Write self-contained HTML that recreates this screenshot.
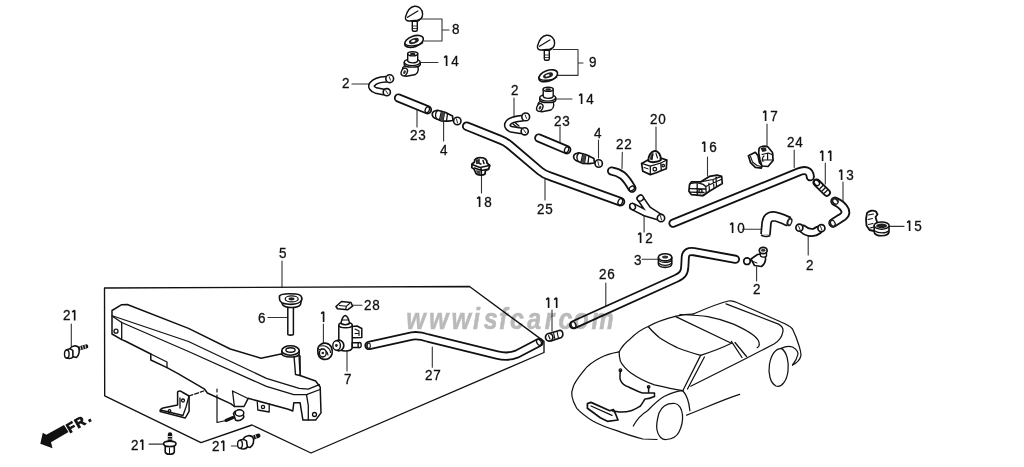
<!DOCTYPE html>
<html><head><meta charset="utf-8">
<style>
html,body{margin:0;padding:0;background:#fff;width:1024px;height:467px;overflow:hidden}
svg{display:block;filter:blur(0.3px)}
text{font-family:"Liberation Sans",sans-serif;fill:#111}
.lab text{stroke:#111;stroke-width:0.3}
</style></head><body>
<svg width="1024" height="467" viewBox="0 0 1024 467">
<defs>
<style>
.l{fill:none;stroke:#111;stroke-width:1.3;stroke-linecap:round;stroke-linejoin:round}
.t{fill:none;stroke:#111;stroke-width:1.6;stroke-linecap:round;stroke-linejoin:round}
.f{fill:#fff;stroke:#111;stroke-width:1.4;stroke-linejoin:round}
.k{fill:#111;stroke:none}
.lab{font-size:14.5px}
</style>
</defs>
<g class="lab">
<text transform="translate(452.08 33.8) scale(0.93 1)">8</text>
<path d="M446.60 55.7V66M446.60 55.7L444.10 57.7" fill="none" stroke="#111" stroke-width="1.65" stroke-linecap="butt" stroke-linejoin="miter"/>
<text transform="translate(451.14 65.8) scale(0.93 1)">4</text>
<text transform="translate(342.08 87.8) scale(0.93 1)">2</text>
<text transform="translate(410.08 139.8) scale(0.93 1)">2</text>
<text transform="translate(418.14 139.8) scale(0.93 1)">3</text>
<text transform="translate(440.08 154.8) scale(0.93 1)">4</text>
<text transform="translate(537.08 213.8) scale(0.93 1)">2</text>
<text transform="translate(545.14 213.8) scale(0.93 1)">5</text>
<path d="M479.60 196.7V207M479.60 196.7L477.10 198.7" fill="none" stroke="#111" stroke-width="1.65" stroke-linecap="butt" stroke-linejoin="miter"/>
<text transform="translate(484.14 206.8) scale(0.93 1)">8</text>
<text transform="translate(589.08 67.3) scale(0.93 1)">9</text>
<path d="M581.60 93.7V104M581.60 93.7L579.10 95.7" fill="none" stroke="#111" stroke-width="1.65" stroke-linecap="butt" stroke-linejoin="miter"/>
<text transform="translate(586.14 103.8) scale(0.93 1)">4</text>
<text transform="translate(511.08 94.8) scale(0.93 1)">2</text>
<text transform="translate(554.08 125.8) scale(0.93 1)">2</text>
<text transform="translate(562.14 125.8) scale(0.93 1)">3</text>
<text transform="translate(594.08 137.8) scale(0.93 1)">4</text>
<text transform="translate(616.08 148.8) scale(0.93 1)">2</text>
<text transform="translate(624.14 148.8) scale(0.93 1)">2</text>
<text transform="translate(650.08 123.8) scale(0.93 1)">2</text>
<text transform="translate(658.14 123.8) scale(0.93 1)">0</text>
<path d="M704.60 141.7V152M704.60 141.7L702.10 143.7" fill="none" stroke="#111" stroke-width="1.65" stroke-linecap="butt" stroke-linejoin="miter"/>
<text transform="translate(709.14 151.8) scale(0.93 1)">6</text>
<path d="M765.60 110.7V121M765.60 110.7L763.10 112.7" fill="none" stroke="#111" stroke-width="1.65" stroke-linecap="butt" stroke-linejoin="miter"/>
<text transform="translate(770.14 120.8) scale(0.93 1)">7</text>
<text transform="translate(787.08 146.8) scale(0.93 1)">2</text>
<text transform="translate(795.14 146.8) scale(0.93 1)">4</text>
<path d="M822.60 150.7V161M822.60 150.7L820.10 152.7" fill="none" stroke="#111" stroke-width="1.65" stroke-linecap="butt" stroke-linejoin="miter"/>
<path d="M830.66 150.7V161M830.66 150.7L828.16 152.7" fill="none" stroke="#111" stroke-width="1.65" stroke-linecap="butt" stroke-linejoin="miter"/>
<path d="M841.60 169.7V180M841.60 169.7L839.10 171.7" fill="none" stroke="#111" stroke-width="1.65" stroke-linecap="butt" stroke-linejoin="miter"/>
<text transform="translate(846.14 179.8) scale(0.93 1)">3</text>
<path d="M909.60 220.7V231M909.60 220.7L907.10 222.7" fill="none" stroke="#111" stroke-width="1.65" stroke-linecap="butt" stroke-linejoin="miter"/>
<text transform="translate(914.14 230.8) scale(0.93 1)">5</text>
<path d="M732.60 222.7V233M732.60 222.7L730.10 224.7" fill="none" stroke="#111" stroke-width="1.65" stroke-linecap="butt" stroke-linejoin="miter"/>
<text transform="translate(737.14 232.8) scale(0.93 1)">0</text>
<text transform="translate(806.08 269.8) scale(0.93 1)">2</text>
<path d="M640.60 232.7V243M640.60 232.7L638.10 234.7" fill="none" stroke="#111" stroke-width="1.65" stroke-linecap="butt" stroke-linejoin="miter"/>
<text transform="translate(645.14 242.8) scale(0.93 1)">2</text>
<text transform="translate(634.08 264.8) scale(0.93 1)">3</text>
<text transform="translate(599.08 278.8) scale(0.93 1)">2</text>
<text transform="translate(607.14 278.8) scale(0.93 1)">6</text>
<text transform="translate(753.08 293.8) scale(0.93 1)">2</text>
<text transform="translate(279.08 257.8) scale(0.93 1)">5</text>
<text transform="translate(258.08 322.8) scale(0.93 1)">6</text>
<path d="M323.60 311.7V322M323.60 311.7L321.10 313.7" fill="none" stroke="#111" stroke-width="1.65" stroke-linecap="butt" stroke-linejoin="miter"/>
<text transform="translate(364.08 309.8) scale(0.93 1)">2</text>
<text transform="translate(372.14 309.8) scale(0.93 1)">8</text>
<text transform="translate(344.08 383.8) scale(0.93 1)">7</text>
<text transform="translate(425.08 379.8) scale(0.93 1)">2</text>
<text transform="translate(433.14 379.8) scale(0.93 1)">7</text>
<path d="M548.60 297.7V308M548.60 297.7L546.10 299.7" fill="none" stroke="#111" stroke-width="1.65" stroke-linecap="butt" stroke-linejoin="miter"/>
<path d="M556.66 297.7V308M556.66 297.7L554.16 299.7" fill="none" stroke="#111" stroke-width="1.65" stroke-linecap="butt" stroke-linejoin="miter"/>
<text transform="translate(63.08 320.3) scale(0.93 1)">2</text>
<path d="M74.66 310.2V320.5M74.66 310.2L72.16 312.2" fill="none" stroke="#111" stroke-width="1.65" stroke-linecap="butt" stroke-linejoin="miter"/>
<text transform="translate(131.08 449.8) scale(0.93 1)">2</text>
<path d="M142.66 439.7V450M142.66 439.7L140.16 441.7" fill="none" stroke="#111" stroke-width="1.65" stroke-linecap="butt" stroke-linejoin="miter"/>
<text transform="translate(212.08 450.8) scale(0.93 1)">2</text>
<path d="M223.66 440.7V451M223.66 440.7L221.16 442.7" fill="none" stroke="#111" stroke-width="1.65" stroke-linecap="butt" stroke-linejoin="miter"/>
</g>
<g class="l" style="stroke:#333;stroke-width:1.1">
<path d="M352 84H370 M417 110V127 M443.6 121V141 M545 179V200 M481.5 176V193 M420 62.5H438 M419 19H442V41H423 M442 30H449"/>
<path d="M553 49.5H578V75.4H557 M578 63H583 M556 99H572 M514 98V117 M560 127V142 M598.5 140V158 M622.3 152.3L622 168.5 M656 127V151 M707.5 157V176 M767 124V146.5 M794.2 150V167.5 M825.3 163V184 M843 182V201 M889.2 226.4H904 M742.5 229.2H761.3 M808.2 234V255 M644.1 214V232 M642 259.3H658.3 M605.8 283V307.4 M756.6 267V281"/>
<path d="M282 261V287.5 M268 317.5H287.8 M323.4 324V343 M352.4 305.3H362 M347 351V371 M432.3 347V367.3 M552 310V331 M71.3 324V345.7 M149 444.1H163.6 M231.3 446H237.7"/>
</g>
<g transform="translate(0 0)">
<rect class="f" x="412.3" y="21" width="5" height="10.2" rx="1.5"/>
<path class="l" d="M413 26H416.5M413 28.5H416.5" style="stroke-width:0.8"/>
<path class="f" d="M409.5 19.5C409 22 419.5 22 419.5 19.5V18.5H409.5Z"/>
<path class="f" d="M405.5 17C407 11.5 410 7 414.5 6.3C419 5.8 422.6 9.5 422.6 14C422.6 17.5 420.5 19.6 417.5 20.3L409.5 21C406.5 21.2 405 19.5 405.5 17Z"/>
<path class="l" d="M407.5 17.3L417.8 11"/>
</g>
<ellipse class="f" cx="414" cy="41.4" rx="9.8" ry="5.3" transform="rotate(-20 414 41.4)" style="stroke-width:1.6"/>
<path class="f" d="M404.5 42.9C405 46.4 417 47.4 423 42.4" style="fill:none"/>
<ellipse cx="414" cy="41.0" rx="5.2" ry="2.6" transform="rotate(-20 414 41.4)" fill="#222"/>
<ellipse cx="413.5" cy="40.8" rx="2.2" ry="1" transform="rotate(-20 414 41.4)" fill="#fff"/>
<g transform="translate(0 0)">
<path class="f" d="M402.5 70C402 66.5 405 65 409 65.5L416.5 65C419 67 419 72.5 415.5 74.5L406.5 76.2C404 76.5 402.8 74 402.5 70Z"/>
<ellipse class="f" cx="404.3" cy="72" rx="2.9" ry="4" transform="rotate(25 404.3 72)"/>
<ellipse cx="404.5" cy="72.2" rx="1.2" ry="2" transform="rotate(25 404.5 72.2)" fill="#333"/>
<path class="f" d="M404.2 62.5V64.5C405 68 419.5 68 420.3 64.5V62.5Z"/>
<ellipse class="f" cx="412.2" cy="62.3" rx="8" ry="3.3"/>
<path class="f" d="M407.7 53.5V61C409 63.5 416.5 63.5 417.7 61V53.5Z"/>
<ellipse class="f" cx="412.7" cy="53.8" rx="5" ry="2.1"/>
<ellipse cx="412.7" cy="54" rx="2.8" ry="1.2" fill="#222"/>
</g>
<path d="M386 79.3C379.5 79.5 374.5 81.5 372 84.5C370.5 86.8 372.5 89.5 376 90.5L383.5 92" fill="none" stroke="#111" stroke-width="7.0" stroke-linecap="round" stroke-linejoin="round"/><path d="M386 79.3C379.5 79.5 374.5 81.5 372 84.5C370.5 86.8 372.5 89.5 376 90.5L383.5 92" fill="none" stroke="#fff" stroke-width="4.0" stroke-linecap="round" stroke-linejoin="round"/><circle class="f" cx="389.7" cy="78.7" r="3.9" style="stroke-width:1.6"/><circle class="f" cx="386.8" cy="92.2" r="3.6" style="stroke-width:1.6"/><path class="l" d="M389.2 76.7L390.5 80.2M385.8 90.7L387.8 93.7" style="stroke-width:0.9"/>
<path d="M398.5 98L427.5 109.8" fill="none" stroke="#111" stroke-width="9.2" stroke-linecap="round" stroke-linejoin="round"/><path d="M398.5 98L427.5 109.8" fill="none" stroke="#fff" stroke-width="5.6" stroke-linecap="round" stroke-linejoin="round"/>
<ellipse class="l" cx="427.3" cy="109.7" rx="2" ry="3" transform="rotate(22 427.3 109.7)"/>
<g transform="translate(0 0)">
<path class="f" d="M434 111.2C431.5 112.5 431.5 116.5 434.5 118L441 120.8L448 121.2L453 120.5L452.5 116L445 112.2L437.5 110.2Z" style="stroke-width:1.7"/>
<path class="l" d="M437.5 110.5C435.5 112.5 435 116 436.8 119M441.5 111.2L439.5 120M444.5 112.3L443 120.8M447.5 113.5L446.5 121"/>
<path class="k" d="M441.5 111.5L444.5 112.5L443 120.7L439.8 120Z" style="fill:#444"/>
<circle class="f" cx="457.3" cy="121" r="3.7" style="stroke-width:1.6"/>
<path class="l" d="M456.5 119L457.5 123" style="stroke-width:0.9"/>
</g>
<path class="f" d="M474.5 162C474 159 477.5 157.5 481 157.7C485 157.8 487.2 160 487 163L489.8 165.5L488.5 169.5L485.5 170.5L485 174C483 175.5 478 175.5 476 173.5L474 169L471.8 167.5L472 164Z" style="stroke-width:1.8"/>
<path class="l" d="M472 164.5L480 167.5L489.5 165.5M474.5 168L481.5 170.5L488.5 169M481 167.5L481.5 175M478 160C478 162 479.5 164 481 164M483 160.5L484 163.5" style="stroke-width:1.5"/>
<path class="k" d="M476 160L480 159L479.5 164L476 164Z" style="fill:#333"/>
<path class="k" d="M476 170L480.5 171L480.5 174.5L477 173.5Z" style="fill:#444"/>
<path d="M466.7 126.2L501 140C505 141.5 507 143 510 145.5L540 171C543 173.5 546 175 550 176.3L620.5 201.8" fill="none" stroke="#111" stroke-width="9.5" stroke-linecap="round" stroke-linejoin="round"/><path d="M466.7 126.2L501 140C505 141.5 507 143 510 145.5L540 171C543 173.5 546 175 550 176.3L620.5 201.8" fill="none" stroke="#fff" stroke-width="5.8" stroke-linecap="round" stroke-linejoin="round"/>
<ellipse class="l" cx="620.3" cy="201.8" rx="2.2" ry="3.3" transform="rotate(20 620.3 201.8)"/>
<g transform="translate(132 29)">
<rect class="f" x="412.3" y="21" width="5" height="10.2" rx="1.5"/>
<path class="l" d="M413 26H416.5M413 28.5H416.5" style="stroke-width:0.8"/>
<path class="f" d="M409.5 19.5C409 22 419.5 22 419.5 19.5V18.5H409.5Z"/>
<path class="f" d="M405.5 17C407 11.5 410 7 414.5 6.3C419 5.8 422.6 9.5 422.6 14C422.6 17.5 420.5 19.6 417.5 20.3L409.5 21C406.5 21.2 405 19.5 405.5 17Z"/>
<path class="l" d="M407.5 17.3L417.8 11"/>
</g>
<ellipse class="f" cx="548.2" cy="75.8" rx="9.8" ry="5.3" transform="rotate(-20 548.2 75.8)" style="stroke-width:1.6"/>
<path class="f" d="M538.7 77.3C539.2 80.8 551.2 81.8 557.2 76.8" style="fill:none"/>
<ellipse cx="548.2" cy="75.39999999999999" rx="5.2" ry="2.6" transform="rotate(-20 548.2 75.8)" fill="#222"/>
<ellipse cx="547.7" cy="75.2" rx="2.2" ry="1" transform="rotate(-20 548.2 75.8)" fill="#fff"/>
<g transform="translate(135.5 35.5)">
<path class="f" d="M402.5 70C402 66.5 405 65 409 65.5L416.5 65C419 67 419 72.5 415.5 74.5L406.5 76.2C404 76.5 402.8 74 402.5 70Z"/>
<ellipse class="f" cx="404.3" cy="72" rx="2.9" ry="4" transform="rotate(25 404.3 72)"/>
<ellipse cx="404.5" cy="72.2" rx="1.2" ry="2" transform="rotate(25 404.5 72.2)" fill="#333"/>
<path class="f" d="M404.2 62.5V64.5C405 68 419.5 68 420.3 64.5V62.5Z"/>
<ellipse class="f" cx="412.2" cy="62.3" rx="8" ry="3.3"/>
<path class="f" d="M407.7 53.5V61C409 63.5 416.5 63.5 417.7 61V53.5Z"/>
<ellipse class="f" cx="412.7" cy="53.8" rx="5" ry="2.1"/>
<ellipse cx="412.7" cy="54" rx="2.8" ry="1.2" fill="#222"/>
</g>
<path d="M522 118.3C516 118.8 511 120 508.5 122.5C506.3 125 507.5 128 511 129.3L520.5 130.8" fill="none" stroke="#111" stroke-width="7.0" stroke-linecap="round" stroke-linejoin="round"/><path d="M522 118.3C516 118.8 511 120 508.5 122.5C506.3 125 507.5 128 511 129.3L520.5 130.8" fill="none" stroke="#fff" stroke-width="4.0" stroke-linecap="round" stroke-linejoin="round"/><circle class="f" cx="525.7" cy="116.9" r="3.9" style="stroke-width:1.6"/><circle class="f" cx="524.7" cy="131.3" r="3.6" style="stroke-width:1.6"/><path class="l" d="M525.2 114.9L526.5 118.4M523.7 129.8L525.7 132.8" style="stroke-width:0.9"/>
<path class="l" d="M513 124L517.5 127.5M515.5 123L519 126"/>
<path d="M538.8 138L566.8 149.8" fill="none" stroke="#111" stroke-width="9.2" stroke-linecap="round" stroke-linejoin="round"/><path d="M538.8 138L566.8 149.8" fill="none" stroke="#fff" stroke-width="5.6" stroke-linecap="round" stroke-linejoin="round"/>
<ellipse class="l" cx="566.6" cy="149.7" rx="2" ry="3" transform="rotate(22 566.6 149.7)"/>
<g transform="translate(141.4 42.5)">
<path class="f" d="M434 111.2C431.5 112.5 431.5 116.5 434.5 118L441 120.8L448 121.2L453 120.5L452.5 116L445 112.2L437.5 110.2Z" style="stroke-width:1.7"/>
<path class="l" d="M437.5 110.5C435.5 112.5 435 116 436.8 119M441.5 111.2L439.5 120M444.5 112.3L443 120.8M447.5 113.5L446.5 121"/>
<path class="k" d="M441.5 111.5L444.5 112.5L443 120.7L439.8 120Z" style="fill:#444"/>
<circle class="f" cx="457.3" cy="121" r="3.7" style="stroke-width:1.6"/>
<path class="l" d="M456.5 119L457.5 123" style="stroke-width:0.9"/>
</g>
<path d="M611.5 171C615 171.5 619 173 622.5 175.5C626 178.5 629 183 632 188.3" fill="none" stroke="#111" stroke-width="9.0" stroke-linecap="round" stroke-linejoin="round"/><path d="M611.5 171C615 171.5 619 173 622.5 175.5C626 178.5 629 183 632 188.3" fill="none" stroke="#fff" stroke-width="5.4" stroke-linecap="round" stroke-linejoin="round"/>
<ellipse class="l" cx="631.8" cy="188.4" rx="2.8" ry="2" transform="rotate(-35 631.8 188.4)"/>
<path d="M640.3 198.3L648 209.5L660 217.3M632.8 206.6L645 212.8L660 217.3" fill="none" stroke="#111" stroke-width="7.6" stroke-linecap="round" stroke-linejoin="round"/><path d="M640.3 198.3L648 209.5L660 217.3M632.8 206.6L645 212.8L660 217.3" fill="none" stroke="#fff" stroke-width="4.6" stroke-linecap="round" stroke-linejoin="round"/>
<ellipse class="f" cx="640.3" cy="198.2" rx="3.3" ry="2.8" transform="rotate(-30 640.3 198.2)"/><ellipse class="f" cx="632.6" cy="206.5" rx="2.6" ry="3.3" transform="rotate(-30 632.6 206.5)"/>
<circle class="f" cx="661" cy="218.1" r="3.7" style="stroke-width:1.6"/><path class="l" d="M660.5 216L661.5 220" style="stroke-width:0.9"/>
<path class="f" d="M641.6 163.4L648.8 159.6L660.8 158.1L666.8 160L666.3 168.8L661.5 170.5L656.3 172.8L650.3 174.6L642.8 171.3Z" style="stroke-width:1.7"/>
<path class="l" d="M641.6 163.4L650.3 166.2L660.8 163L666.8 160M650.3 166.2L650.3 174.4M660.8 163L661.3 170.5" style="stroke-width:1.3"/>
<path class="f" d="M648.5 161C648 156 651 151.5 654.5 151C658.5 150.8 661 155 660.8 160C658 162.5 651 162.8 648.5 161Z" style="stroke-width:2"/><path class="k" d="M650 159.5C650 156 651.5 153 653.5 152.5L652.5 160.5Z" style="fill:#333"/>
<path class="l" d="M652 159L653 154.5M656 153.5L657.5 158" style="stroke-width:1.1"/>
<circle class="l" cx="654.8" cy="169.2" r="1.8"/><circle class="l" cx="663.2" cy="165.6" r="1.3"/>
<path class="l" d="M644 167.5L648 168.8" style="stroke-width:1"/>
<path class="f" d="M689.5 184.8L691.4 181.9L700.4 181.9L709.4 176.4L717.1 175.1L721.6 176.4L722.3 183.5L709.4 191.2L703 195.7L691.4 194.7L688.9 191.2Z" style="stroke-width:1.7"/>
<path class="l" d="M690 183.5C696 182 703 183 705.8 186.5L706.2 192.5C705 195 702 196 700 195.5M690 188.6L705 189M690 192.2L704 192.5M697.2 183V195.5" style="stroke-width:1.3"/>
<path class="l" d="M700.4 181.9L713 179.5L721.6 176.4M705.8 186.5L721 179.5M709 183L709.4 191M713 179.5L714 187.5M716 177L716.5 186" style="stroke-width:1.2"/>
<circle class="l" cx="700.5" cy="191" r="1.6"/>
<path class="f" d="M748.4 155.8L755.3 152.3L758 155.8L759.4 162.6L762.1 165.3L761.4 168.1L755.3 167.4L750.5 162.6Z" style="stroke-width:1.7"/>
<path class="l" d="M750.5 156.5L752.5 162L757 165.5L761.5 166.5" style="stroke-width:1.1"/>
<path class="f" d="M759 148.5C760 146 765 145.5 768 147L772.5 152.5L773.1 160.5L768 166.5L762 166L760 160L758.7 153Z" style="stroke-width:1.7"/>
<path class="k" d="M760.5 148.5C762 147 764.5 146.8 766 147.8L766.5 151L762.5 152Z" style="fill:#222"/>
<path class="l" d="M762 154.5L768.3 153L773 155M767.6 153.7L767.6 159.9L773 160M762 160L767.6 160M763 161.5C762 159 762.5 157 764 156" style="stroke-width:1.2"/>
<path d="M673 223.3L798.5 172C805 169.2 810 170.5 810.3 176.8" fill="none" stroke="#111" stroke-width="9.100000000000001" stroke-linecap="round" stroke-linejoin="round"/><path d="M673 223.3L798.5 172C805 169.2 810 170.5 810.3 176.8" fill="none" stroke="#fff" stroke-width="5.4" stroke-linecap="round" stroke-linejoin="round"/>

<path d="M816.8 182.8L826.8 192.6" fill="none" stroke="#111" stroke-width="8.2" stroke-linecap="round" stroke-linejoin="round"/><path d="M816.8 182.8L826.8 192.6" fill="none" stroke="#fff" stroke-width="4.6" stroke-linecap="round" stroke-linejoin="round"/>
<ellipse cx="816.5" cy="182.6" rx="3.3" ry="4" transform="rotate(-45 816.5 182.6)" fill="#111"/><ellipse cx="816.8" cy="182.8" rx="1.6" ry="2.4" transform="rotate(-45 816.8 182.8)" fill="#fff"/><path class="l" d="M820 188.5L823 185.5M822.3 190.8L825.3 187.8M824.5 193L827.3 190.2" style="stroke-width:1.3"/>
<path d="M835 201.3C839 203 843 206 845 210C846.5 214 844 216.5 840 218.5L833 223" fill="none" stroke="#111" stroke-width="9.5" stroke-linecap="round" stroke-linejoin="round"/><path d="M835 201.3C839 203 843 206 845 210C846.5 214 844 216.5 840 218.5L833 223" fill="none" stroke="#fff" stroke-width="5.8" stroke-linecap="round" stroke-linejoin="round"/>
<ellipse cx="835" cy="201.2" rx="3.4" ry="4" transform="rotate(-50 835 201.2)" fill="#222"/><ellipse cx="835.3" cy="201.6" rx="1.5" ry="2.3" transform="rotate(-50 835.3 201.6)" fill="#fff"/><ellipse cx="832.5" cy="223.5" rx="3.2" ry="4" transform="rotate(-30 832.5 223.5)" fill="#222"/><ellipse cx="832.8" cy="223.3" rx="1.5" ry="2.3" transform="rotate(-30 832.8 223.3)" fill="#fff"/>
<path d="M765.5 234.5L766.5 223C767 218.5 769.5 216.3 773.5 216.3C778 216.5 783 219 789 221.8" fill="none" stroke="#111" stroke-width="10.6" stroke-linecap="butt" stroke-linejoin="round"/><path d="M765.5 234.5L766.5 223C767 218.5 769.5 216.3 773.5 216.3C778 216.5 783 219 789 221.8" fill="none" stroke="#fff" stroke-width="7.2" stroke-linecap="butt" stroke-linejoin="round"/>
<path class="t" d="M761.5 235.3C763.5 236.5 767.5 236.8 769.7 235.8"/><ellipse cx="789.5" cy="222" rx="2.8" ry="4.4" transform="rotate(20 789.5 222)" fill="#222"/><ellipse cx="789.8" cy="222" rx="1.2" ry="2.5" transform="rotate(20 789.8 222)" fill="#fff"/>
<path d="M803 229C806 232 811 233 815 232L818.5 230" fill="none" stroke="#111" stroke-width="9.0" stroke-linecap="round" stroke-linejoin="round"/><path d="M803 229C806 232 811 233 815 232L818.5 230" fill="none" stroke="#fff" stroke-width="5.4" stroke-linecap="round" stroke-linejoin="round"/>
<circle class="f" cx="799.4" cy="227.7" r="3.5" style="stroke-width:1.7"/><circle class="f" cx="821.4" cy="228.2" r="3.5" style="stroke-width:1.7"/><path class="l" d="M798.5 226L800 229.5M820.5 226.5L822 230" style="stroke-width:0.9"/>
<path class="f" d="M867 213C869 210.5 873 210 876 211.5L877.5 214.5L875.5 217L877 222L876.5 229L874 231L869.5 230L866.5 225.5L866 219Z" style="stroke-width:1.8"/>
<path class="l" d="M868.5 215L873.5 214M868 219.5L872.5 218.5M868.5 224.5L873 223.5M870 228L874 227" style="stroke-width:1.1"/>
<path class="f" d="M874.2 226V232C875 237 888 237 889 232V226Z" style="stroke-width:1.6"/>
<ellipse class="f" cx="881.6" cy="225.6" rx="7.5" ry="3.6" style="stroke-width:1.6"/>
<ellipse cx="881.6" cy="225.8" rx="5.5" ry="2.3" fill="#222"/>
<path class="l" d="M875 231C878 233.5 886 233.5 888.5 231" style="stroke-width:1.1"/>
<path class="f" d="M658.4 257.5V264C659 268.5 671.2 268.5 671.8 264V257.5Z" style="stroke-width:1.6"/>
<path class="l" d="M658.8 260.5C661 263 669 263 671.5 260.5M659 263.5C662 266 668.5 266 671.3 263.5" style="stroke-width:1.1"/>
<ellipse class="f" cx="665.1" cy="257.3" rx="6.7" ry="3.6" style="stroke-width:1.6"/>
<ellipse cx="665.1" cy="256.9" rx="3" ry="1.5" fill="#333"/>
<path d="M573.5 324.8L676 278.5C682.5 275.5 684.5 273 684.8 266.5L685.3 257C685.8 252.3 689 250.8 694 251.7L735.5 259.3" fill="none" stroke="#111" stroke-width="9.0" stroke-linecap="round" stroke-linejoin="round"/><path d="M573.5 324.8L676 278.5C682.5 275.5 684.5 273 684.8 266.5L685.3 257C685.8 252.3 689 250.8 694 251.7L735.5 259.3" fill="none" stroke="#fff" stroke-width="5.4" stroke-linecap="round" stroke-linejoin="round"/>
<ellipse class="l" cx="573.5" cy="324.8" rx="2.3" ry="3.3" transform="rotate(-25 573.5 324.8)"/>
<path class="f" d="M751 259L757.5 254.5L763.5 253.5C766.5 256.5 766.5 263 761.5 266.5L754.5 265.5Z" style="stroke-width:1.6"/>
<circle class="f" cx="747" cy="261.2" r="3.3" style="stroke-width:1.7"/>
<path class="f" d="M760 251.5L760.5 256C762 257.5 765 257.5 766.5 256L766.5 251.5Z" style="stroke-width:1.4"/>
<ellipse class="f" cx="763.2" cy="250.5" rx="3.9" ry="3.2" style="stroke-width:1.7"/>
<ellipse cx="763.2" cy="250.3" rx="2.2" ry="1.5" fill="#333"/>
<path class="l" d="M752 261L757 263" style="stroke-width:1"/>
<g id="car" class="l" style="stroke-width:1.25">
<path d="M619.2 351.8C612 353 605 355 600.3 357.7C592 362 587 366 583.9 370.6C578 378 574 383 573.2 387.1C571.5 391 571.5 394 572 396.5C573 402 575 405 576.8 408.3C582 414 588 418 593.3 421.3C600 425 608 428 616.8 430.7C625 434 635 437 642.8 439L657 439.5"/>
<path d="M619.2 351.8C619 355 619.5 358 620.4 361.2C623 366 627 370 631 373C638 378 646 382 654.5 384.8C664 387 673 389 682.8 390.7"/>
<path d="M633.3 426C637 419 642 414 647.5 410.7C653 405 658 400 664 396.5C671 393 677 391 682.8 390.7C685 393 686.5 396 687.5 399C689 403 689.5 407 689.9 410.7"/>
<path d="M659 413C657 420 656 425 657 430C658 436 662 440 666.5 439.5C672 439 677 436 679 432C682 426 683 421 682.5 415C682 409 679 404 675 403.5C668 403 662 406 659 413Z"/>
<path d="M682.8 390.7L700.6 355.4M687.5 389L704.4 357"/>
<path d="M619.2 351.8C622 346 626 342 630.2 338.9C636 333 642 329 648.2 326.5C656 322 665 319 675.2 316.4C681 315 687 314 693.2 314.1"/>
<path d="M693.2 314.1C705 309 716 304 728.4 301C731 300.5 734 301 736.8 302.5L781 322C786 324 790 326 792.5 329C795 334 797 339 799 345.7C800 349 801 352 801 355.4C800 360 797 363 792.5 365"/>
<path d="M648.2 326.5C651 330 654 333 659.5 337.7C666 342 672 345 677.5 347.8C685 351 692 353 700.6 355.4"/>
<path d="M680 314.5C690 315 700 315.5 707.8 316.6C718 318.5 726 321 733.5 324.1C742 328 748 331 752.8 334.8C757 338 759 341 759.2 343.4C759.5 345 758.5 347 757.1 347.7"/>
<path d="M675.2 316.4L731.4 343.3"/>
<path d="M700.6 355.4C711 352 722 348 731.4 343.3"/>
<path d="M731.4 341.3L742 357.5M735 342.5L746.5 356.5"/>
<path d="M726 303.8L778.5 324.1C782 326 783.5 329 782.8 332C782 337 779 341 774 344L742 360.5L690.7 386.2"/>
<path d="M686.7 415.2C705 408 722 400 739.6 394.4"/>
<path d="M781.3 348.4C775 349 771 356 769.5 364C768 373 770 383 776 386C782 388 787 380 788 371C789 362 787 352 781.3 348.4"/>
<path d="M781.3 348.4C785 346.5 789 346 792.5 347C796 349 798 351 798 354C797 359 795 362 792.5 365"/>
<path d="M620.4 370.6C620 374 619.5 378 620.4 380C622 384 625 386 628.6 387C633 389 638 392 642.8 393L648.6 393L648.6 387M648.6 393L654.5 393L654.5 396.5C651 398 647 399 645 399C643 402 642 404 640.4 406C637 408 634 410 631 410.7C627 412 623 412 619.2 411.9L612 410.7" style="stroke-width:1.5"/>
<circle cx="620.4" cy="370.2" r="1.3"/>
<circle cx="648.6" cy="386.8" r="1.3"/>
<path d="M587.4 403.6L591 402.4L609.8 410.7L613.3 409.5L615.7 414.2L618 420L607.4 421.3L600.3 417.8L587.4 408.3Z" style="stroke-width:1.7"/>
<path d="M591 406L612 415.4"/>
</g>
<path class="f" style="stroke-width:1.5" d="M112 310.5L121.7 304.7L127.3 304.5L188.5 328.4L230.3 349L261 358.2L281 354L300 356L300.1 375.5L315.6 381L320.2 387L321 412.9L315.6 420.1L305.6 420.1L302.9 420.1L300.1 402.8L293.8 402.8L292.8 411L288.3 409.2L248.2 398.3L244 406.5L234.4 406.5L230.6 403.6L207.4 393L204.2 388.8L178 373.6L167 367.6L150.8 360L150.8 354L125.1 341L121.7 339.6L112 334Z"/>
<path class="l" d="M113 316L188.5 341.5L266.4 378.3L299.2 388.3L308.3 389.2L319.3 384.6"/>
<path class="l" d="M121.7 322.5L188.5 351.5L266.4 386.4L293.8 394.6L306.5 394.6L320 389.5"/>
<path class="l" d="M306.5 394.6L308.3 405.6L308.3 420.1"/>
<path class="l" d="M121.7 339.6L121.7 322.5M112 316L121.7 322.5"/>
<circle class="l" cx="116" cy="331.2" r="2"/>
<path class="l" d="M150.8 354L167 362L167 367.6"/>
<path class="l" d="M232.5 391L248 398.5M232.5 391L234.4 406.5"/>
<path class="l" d="M257.3 402L257.8 410L269.2 412L269.2 404"/>
<circle class="l" cx="263" cy="407" r="1.6"/>
<circle class="l" cx="314.5" cy="414.5" r="2"/>
<path class="f" d="M294 356L295.5 374.5L300.1 375.5L299 355Z"/>
<path class="f" d="M281.9 350.5V354C283 357.5 298 358.5 299.2 354V350.5Z" style="stroke-width:1.5"/>
<ellipse class="f" cx="290.5" cy="350.5" rx="8.7" ry="4.7" style="stroke-width:1.6"/>
<ellipse class="l" cx="290.5" cy="350" rx="4.6" ry="2.2" style="stroke-width:1.4"/>
<path class="f" d="M177.6 393C177 391 180 390.5 182 392L189.1 396L189.1 411.3L185.3 418L160.2 411.5C159.5 410 161 408.5 163 408L177.6 405Z" style="stroke-width:1.5"/>
<path class="l" d="M160.5 410L183 415.5L186 407L189 396M180 398L180 408"/>
<circle class="l" cx="169.5" cy="411" r="1.3"/>
<circle class="l" cx="183" cy="400.5" r="1.5"/>
<path class="l" d="M189 396L203.6 391" style="stroke-dasharray:4 2"/><path class="l" d="M217 389V392M217 395V422.5L226 420.5" style="stroke-width:1.2"/>
<path class="l" d="M226 420.5L233 417.5" style="stroke-width:3"/>
<path class="f" d="M233.5 413.5C234.5 410.5 240 409.5 242.5 411.5L243.8 417C243 420 238 421.5 235.5 420Z" style="stroke-width:1.6"/>
<ellipse class="f" cx="239.5" cy="413" rx="4.3" ry="3.2" style="stroke-width:1.5"/>
<path class="f" d="M287.8 306H293.4V334.2C293.4 335.5 287.8 335.5 287.8 334.2Z" style="stroke-width:1.5"/>
<path class="f" d="M280.5 299L282.5 304.5C285 308.5 298 308.5 300.5 304.5L301.7 299Z" style="stroke-width:1.5"/>
<path class="f" d="M279.5 296C281 293.5 290 293.5 296 294C301 294.5 302.5 297 301.5 300C300 303.5 294 304.5 289 304.3C283 304 279.5 302 279.5 299Z" style="stroke-width:1.6"/>
<ellipse class="l" cx="291.7" cy="298.9" rx="6.5" ry="3" style="stroke-width:1.3"/>
<ellipse cx="291.5" cy="298.8" rx="3" ry="1.6" fill="#222"/>
<path class="f" d="M317.8 350C318 344.5 322.5 342.8 326.5 343.3C331 344 333 349.5 332 354C331 358 327 360 323.5 359.3C319.5 358.5 317.6 354.5 317.8 350Z" style="stroke-width:1.7"/>
<path class="l" d="M320.5 346C325 345 330 347.5 330.5 352.5M319.5 349.5C323 348.5 327.5 350.5 328 355" style="stroke-width:1.2"/>
<ellipse class="f" cx="322.8" cy="353" rx="3.4" ry="4" style="stroke-width:1.4"/>
<circle cx="322.8" cy="353" r="1.3" fill="#222"/>
<path class="f" d="M336 306.5L341.5 301.5L351 302.5L352.6 306.2L347.5 309.8L337.5 308.8Z" style="stroke-width:1.6"/>
<path class="l" d="M339.5 305.5L346.5 306.2L349.5 303.5M346.5 306.2L345.5 309.5" style="stroke-width:1.1"/>
<path class="f" d="M352.2 326.5L357 326L361.8 328.5L361.8 337.5L352.2 337.8Z" style="stroke-width:1.5"/>
<path class="l" d="M355 329L359 331V335.5M355 333.5H358" style="stroke-width:1.1"/>
<path class="f" d="M338.8 325.5V348C340 352 351 352 352.2 348V325.5Z" style="stroke-width:1.5"/>
<ellipse class="f" cx="345.5" cy="325" rx="6.7" ry="2.8" style="stroke-width:1.5"/>
<path class="f" d="M341 323.5C341.5 319 343.5 315.5 345.2 315.4C347 315.5 349 319 349.5 323.5C347 325 343.5 325 341 323.5Z" style="stroke-width:1.5"/>
<path class="l" d="M342 320H348.5" style="stroke-width:1"/>
<path class="f" d="M352.2 342.7H359.6V347.5H352.2Z" style="stroke-width:1.5"/>
<ellipse class="f" cx="359.6" cy="345.1" rx="1.6" ry="2.6" style="stroke-width:1.3"/>
<ellipse class="f" cx="338.8" cy="345.5" rx="5" ry="5.3" style="stroke-width:1.7"/>
<ellipse class="f" cx="336.6" cy="345.5" rx="3.8" ry="4.8" style="stroke-width:1.4"/>
<circle cx="336.4" cy="345.5" r="1.4" fill="#222"/>
<path d="M369 345.5L412 336C418 335 422 336 428 338L497 355C505 357 510 357 517 354L539 342.5" fill="none" stroke="#111" stroke-width="9.2" stroke-linecap="round" stroke-linejoin="round"/><path d="M369 345.5L412 336C418 335 422 336 428 338L497 355C505 357 510 357 517 354L539 342.5" fill="none" stroke="#fff" stroke-width="5.6" stroke-linecap="round" stroke-linejoin="round"/>
<ellipse cx="368.5" cy="345.8" rx="2.4" ry="3.4" fill="#222"/><ellipse cx="368.8" cy="345.8" rx="1" ry="2" fill="#fff"/><ellipse class="l" cx="539" cy="342.3" rx="2.1" ry="3.2" transform="rotate(-30 539 342.3)"/>
<path class="f" d="M549 333.5L560 330.2C563 330.5 564 335.5 561.5 337.5L551 341Z" style="stroke-width:1.6"/>
<ellipse class="f" cx="549.2" cy="337.3" rx="3.7" ry="3.8" style="stroke-width:1.7"/>
<path class="l" d="M553.5 332.5L555 339.5M557 331.5L558.5 338.5M548.5 335.5L550 339" style="stroke-width:1.1"/>
<path class="l" d="M77 349L86.2 346.5" style="stroke-width:4.2"/>
<path class="l" d="M80 346.5L80.8 349.5M82.5 346L83.3 349M85 345.2L85.8 348.2" style="stroke:#fff;stroke-width:0.8"/>
<path class="f" d="M69.8 349C71.5 345.5 76.5 345 78.5 347.5C80 350.5 79 355.5 76.5 357.5L70 356Z" style="stroke-width:1.6"/>
<path class="f" d="M66 350.5C67.5 348.5 71 348.5 72.8 350.5L73 357C71.5 359 67 359 65.5 357Z" style="stroke-width:1.6"/>
<ellipse class="f" cx="66.8" cy="354" rx="2.3" ry="4" style="stroke-width:1.4"/>
<path class="l" d="M170 434.5V442" style="stroke-width:4.4"/>
<path class="l" d="M168 436.5H172M168 439H172" style="stroke:#fff;stroke-width:0.8"/>
<path class="f" d="M165.2 446.5V452C166 455 173.5 455 174.3 452V446.5Z" style="stroke-width:1.6"/>
<ellipse class="f" cx="169.8" cy="443.8" rx="6.2" ry="2.7" style="stroke-width:1.6"/>
<path class="l" d="M169.5 448V454.5" style="stroke-width:1"/>
<path class="l" d="M251 438.5L258.3 435.7" style="stroke-width:4.2"/>
<path class="l" d="M253 436L253.8 439M255.5 435.2L256.3 438.2" style="stroke:#fff;stroke-width:0.8"/>
<path class="f" d="M243.5 438.5C245.5 435 251 434.8 253 437.5C254.5 441 253.5 445.5 250 447.5L244 446Z" style="stroke-width:1.6"/>
<path class="f" d="M239 441C240.5 439 244.5 439 246.5 441L247.4 447C246 449.5 241 449.5 239 447.5Z" style="stroke-width:1.6"/>
<ellipse class="f" cx="240" cy="444.3" rx="2.4" ry="3.9" style="stroke-width:1.4"/>
<path class="k" d="M40.3 443.7L42.8 432.8L46.3 434.8L64 425L68.5 432.1L51 442.3L52.5 448.2Z"/>
<text transform="translate(69.8 433.2) rotate(-30)" x="0" y="0" style="font-size:13.4px;font-weight:bold;fill:#111;stroke:#111;stroke-width:0.9;letter-spacing:1.3px">FR<tspan dx="1.5">.</tspan></text>
<path class="l" style="stroke-width:1.35" d="M104.5 288L469.5 286.5L544 341.4V352.5L311 453L252 425L201 442.6L104.7 395.8Z"/>
<text transform="translate(406.3 328.9) scale(1 1.2)" x="0" y="0" style="font-size:25px;font-weight:bold;font-style:italic;fill:#bababa;stroke:#bababa;stroke-width:0.45;mix-blend-mode:multiply"><tspan x="0.0">w</tspan><tspan x="22.7">w</tspan><tspan x="45.3">w</tspan><tspan x="66.7">i</tspan><tspan x="77.5">s</tspan><tspan x="92.6">f</tspan><tspan x="103.6">c</tspan><tspan x="121.0">a</tspan><tspan x="138.5">r</tspan><tspan x="152.1">c</tspan><tspan x="167.1">o</tspan><tspan x="185.1">m</tspan></text>
</svg>
</body></html>
